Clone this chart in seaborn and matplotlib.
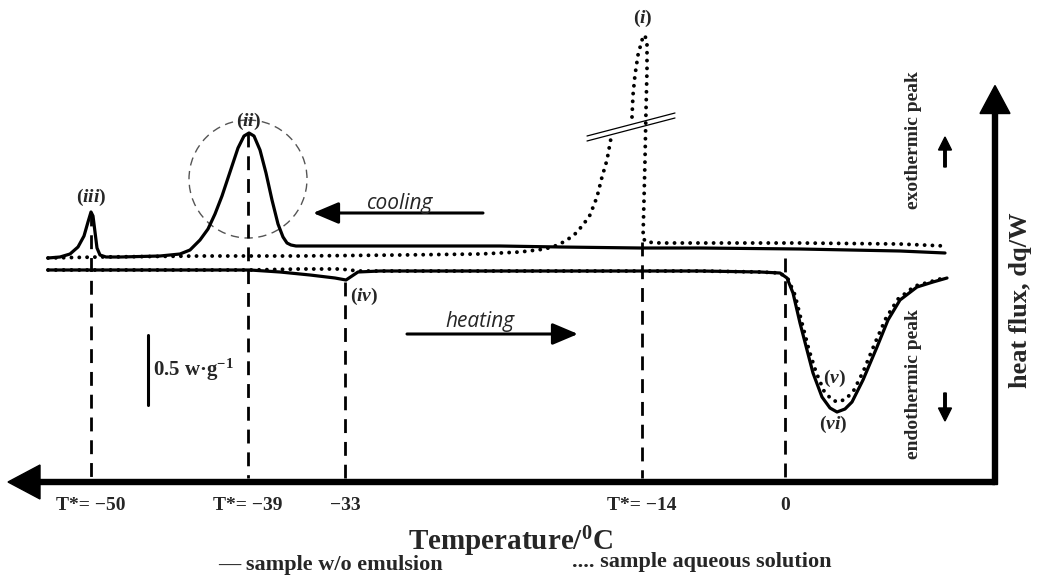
import numpy as np
import pandas as pd
import matplotlib
matplotlib.use("Agg")
import matplotlib.pyplot as plt
import seaborn as sns
from matplotlib.patches import Circle

sns.set_theme(style="white")
plt.rcParams['font.family'] = ['Liberation Serif', 'DejaVu Serif']
plt.rcParams['mathtext.fontset'] = 'custom'
plt.rcParams['mathtext.rm'] = 'Liberation Serif:bold'
plt.rcParams['mathtext.bf'] = 'Liberation Serif:bold'
plt.rcParams['mathtext.it'] = 'Liberation Serif:bold:italic'

# ---------------- data (schematic position units) ----------------
# cooling, sample w/o emulsion (solid)
cool_solid_x = [48, 60, 70, 78, 84, 88, 91, 93, 95, 97, 100, 106, 120, 160, 180, 190, 200, 208, 215,
                222, 230, 238, 244, 249, 254, 260, 266, 272, 278, 283, 287, 291, 296, 310, 400, 500,
                560, 640, 700, 800, 900, 945]
cool_solid_y = [258, 257, 254, 247, 236, 222, 212, 216, 232, 248, 255, 257, 257, 256, 254, 250, 240, 229, 214,
                196, 172, 148, 136, 133, 136, 150, 173, 200, 224, 237, 243, 245, 246, 246, 246, 246,
                247, 248, 248, 249, 251, 253]
# cooling, sample aqueous solution (dotted) - two segments around the axis break
cool_dot_a_x = [48, 100, 200, 300, 400, 480, 520, 545, 558, 567, 575, 583, 590, 597, 602, 607, 611]
cool_dot_a_y = [258, 257, 256, 256, 255, 254, 252, 249, 245, 240, 234, 225, 215, 197, 177, 160, 138]
cool_dot_b_x = [632, 633, 635, 638, 642, 645, 647, 647, 646, 645, 644, 643, 646, 660, 700, 800, 900, 945]
cool_dot_b_y = [117, 95, 75, 55, 40, 35, 45, 70, 110, 160, 200, 238, 242, 243, 243, 243, 244, 246]
# heating, sample w/o emulsion (solid)
heat_solid_x = [48, 150, 250, 280, 310, 335, 346, 352, 358, 380, 500, 600, 700, 760, 780, 787, 793, 800,
                807, 813, 822, 830, 837, 845, 852, 863, 877, 888, 900, 917, 933, 947]
heat_solid_y = [270, 270, 270, 272, 275, 278, 280, 276, 272, 271, 271, 271, 271, 272, 273, 278, 293, 323,
                350, 373, 397, 408, 412, 409, 402, 380, 347, 320, 300, 287, 282, 278]
# heating, sample aqueous solution (dotted)
heat_dot_x = [48, 150, 250, 300, 340, 350, 358, 380, 500, 600, 700, 760, 780, 788, 795, 802, 809, 816,
              824, 832, 838, 846, 854, 863, 875, 886, 898, 915, 933, 947]
heat_dot_y = [270, 270, 270, 269, 269, 270, 271, 271, 271, 271, 271, 272, 273, 279, 295, 323, 350, 372,
              391, 400, 402, 399, 390, 372, 343, 318, 299, 286, 281, 277]

# characteristic temperatures (tick labels) and their marker lines
tick_pos = [91, 248, 345, 642, 785]
tick_labels = ["T*= \u221250", "T*= \u221239", "\u221233", "T*= \u221214", "0"]
tick_line_top = [212, 133, 282, 242, 258]

peak_labels = ["$(i)$", "$(ii)$", "$(iii)$", "$(iv)$", "$(v)$", "$(vi)$"]
peak_label_x = [643, 249, 91, 364, 834, 833]
peak_label_y = [18, 121, 197, 296, 378, 424]

# ---------------- figure ----------------
fig = plt.figure(figsize=(10.38, 5.76), dpi=100)
ax = fig.add_axes([0, 0, 1, 1])
ax.set_xlim(0, 1038)
ax.set_ylim(576, 0)
ax.axis('off')

def frame(xs, ys, seg):
    return pd.DataFrame({"x": xs, "y": ys, "seg": seg})

solid_df = pd.concat([frame(cool_solid_x, cool_solid_y, "cool"),
                      frame(heat_solid_x, heat_solid_y, "heat")])
dot_df = pd.concat([frame(cool_dot_a_x, cool_dot_a_y, "cool_a"),
                    frame(cool_dot_b_x, cool_dot_b_y, "cool_b"),
                    frame(heat_dot_x, heat_dot_y, "heat")])

sns.lineplot(data=dot_df, x="x", y="y", units="seg", estimator=None, sort=False, ax=ax,
             color="black", lw=2.8, linestyle=(0, (0.01, 2.0)), dash_capstyle="round")
sns.lineplot(data=solid_df, x="x", y="y", units="seg", estimator=None, sort=False, ax=ax,
             color="black", lw=2.3, solid_joinstyle="round")

# dashed marker lines
for xp, top in zip(tick_pos, tick_line_top):
    ax.plot([xp, xp], [top, 478], color="black", lw=2.0, linestyle=(0, (5, 3.2)))

# tick labels
for xp, lab in zip(tick_pos, tick_labels):
    ax.text(xp, 506, lab, ha="center", va="center", fontsize=14, fontweight="bold")

# peak labels
for lab, xp, yp in zip(peak_labels, peak_label_x, peak_label_y):
    ax.text(xp, yp, lab, ha="center", va="center", fontsize=14)

# dashed circle around peak (ii)
ax.add_patch(Circle((248, 179), 59, fill=False, ec="#555555", lw=1.0, linestyle=(0, (6, 4))))

# axis break double line
ax.plot([587, 675], [141, 118], color="black", lw=0.9)
ax.plot([587, 675], [136, 113], color="black", lw=0.9)

# cooling / heating arrows
ax.annotate("", xy=(313, 213), xytext=(483, 213),
            arrowprops=dict(arrowstyle="-|>,head_length=1.3,head_width=0.55", lw=2.2, color="black",
                            shrinkA=0, shrinkB=0))
ax.text(400, 203, "cooling", ha="center", va="center", fontsize=15, fontstyle="italic",
        family=["Open Sans", "DejaVu Sans"])
ax.annotate("", xy=(578, 334), xytext=(407, 334),
            arrowprops=dict(arrowstyle="-|>,head_length=1.3,head_width=0.55", lw=2.2, color="black",
                            shrinkA=0, shrinkB=0))
ax.text(480, 322, "heating", ha="center", va="center", fontsize=15, fontstyle="italic",
        family=["Open Sans", "DejaVu Sans"])

# scale bar
ax.plot([148, 148], [335, 405], color="black", lw=2.2)
ax.text(153, 370, "0.5 w\u00b7g$^{-1}$", ha="left", va="center", fontsize=15, fontweight="bold")

# main axes arrows
ax.arrow(995, 482, -987, 0, width=5, head_width=34, head_length=32, length_includes_head=True,
         fc="black", ec="black")
ax.arrow(995, 484.5, 0, -399, width=5, head_width=30, head_length=28, length_includes_head=True,
         fc="black", ec="black")

# exo / endo small arrows and labels
ax.arrow(945, 167, 0, -30, width=2.5, head_width=13, head_length=13, length_includes_head=True,
         fc="black", ec="black")
ax.arrow(945, 393, 0, 28, width=2.5, head_width=13, head_length=13, length_includes_head=True,
         fc="black", ec="black")
ax.text(914, 140, "exothermic peak", rotation=90, ha="center", va="center", fontsize=14, fontweight="bold")
ax.text(914, 384, "endothermic peak", rotation=90, ha="center", va="center", fontsize=14, fontweight="bold")
ax.text(1021, 300, "heat flux, dq/W", rotation=90, ha="center", va="center", fontsize=19, fontweight="bold")

# axis title and legend text
ax.text(510, 542, "Temperature/$^{0}$C", ha="center", va="center", fontsize=21, fontweight="bold")
ax.text(330, 565, "\u2014 sample w/o emulsion", ha="center", va="center", fontsize=16, fontweight="bold")
ax.text(702, 562, ".... sample aqueous solution", ha="center", va="center", fontsize=16, fontweight="bold")

fig.savefig("out.png", dpi=100, facecolor="white")
